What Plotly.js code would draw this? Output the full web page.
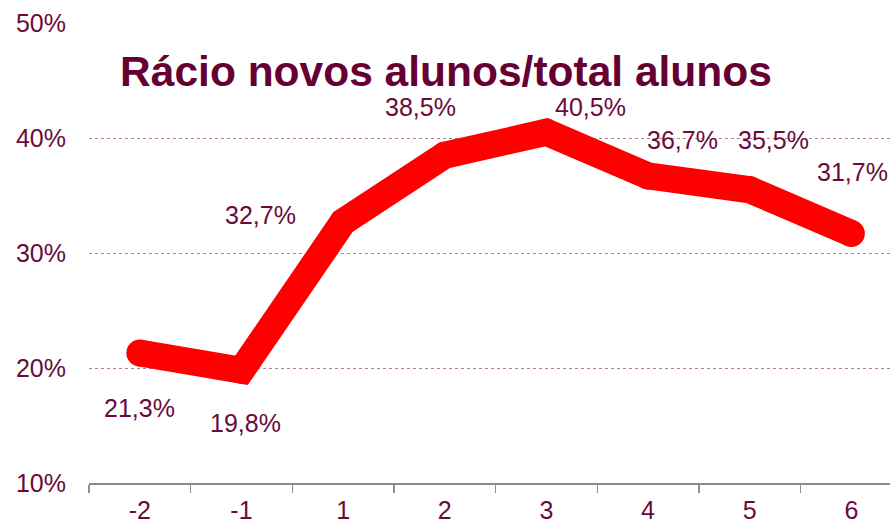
<!DOCTYPE html>
<html>
<head>
<meta charset="utf-8">
<script src="https://cdn.plot.ly/plotly-3.0.1.min.js"></script>
<style>html,body{margin:0;padding:0;background:#fff;}#chart{width:890px;height:526px;}</style>
</head>
<body>
<div id="chart"></div>
<script>
const categories = ['-2', '-1', '1', '2', '3', '4', '5', '6'];
const ratios = [0.213, 0.198, 0.327, 0.385, 0.405, 0.367, 0.355, 0.317];
const labels = ['21,3%', '19,8%', '32,7%', '38,5%', '40,5%', '36,7%', '35,5%', '31,7%'];
const yTickVals = [0.1, 0.2, 0.3, 0.4, 0.5];
const yTickText = ['10%', '20%', '30%', '40%', '50%'];
const titleText = 'Rácio novos alunos/total alunos';

// label offsets (pixels) relative to each point
const labelShiftX = [0, 4, -83, -24, 44, 34, 24, 1];
const labelShiftY = [-55, -53, 7, 48, 25, 36, 50, 61];

const textColor = '#6b0a3a';
const fontFam = 'Liberation Sans, Arial, sans-serif';

const annotations = categories.map((c, i) => ({
  x: i, y: ratios[i], xref: 'x', yref: 'y',
  text: labels[i], showarrow: false,
  xshift: labelShiftX[i], yshift: labelShiftY[i],
  font: {family: fontFam, size: 25, color: textColor}
}));

const trace = {
  x: categories, y: ratios, type: 'scatter', mode: 'lines+markers',
  line: {color: '#ff0000', width: 27, shape: 'linear'},
  marker: {color: '#ff0000', size: 27, line: {width: 0}},
  hoverinfo: 'skip'
};

const layout = {
  width: 890, height: 526,
  margin: {l: 89, r: 0, t: 23, b: 43, pad: 0},
  paper_bgcolor: '#ffffff', plot_bgcolor: '#ffffff',
  showlegend: false,
  title: {
    text: '<b>' + titleText + '</b>',
    xref: 'container', yref: 'container',
    x: 446 / 890, xanchor: 'center',
    y: 1 - 71 / 526, yanchor: 'middle',
    font: {family: fontFam, size: 42.5, color: '#660033'}
  },
  xaxis: {
    type: 'category',
    range: [-0.5, 7.38],
    showgrid: false, zeroline: false,
    showline: true, linecolor: '#8c8c8c', linewidth: 1.5,
    ticks: 'outside', ticklen: 8, tickwidth: 1.5, tickcolor: '#8c8c8c',
    tickson: 'boundaries',
    ticklabelstandoff: 4,
    tickfont: {family: fontFam, size: 25, color: textColor},
    fixedrange: true
  },
  yaxis: {
    range: [0.1, 0.5],
    tickvals: yTickVals, ticktext: yTickText,
    showgrid: true, gridcolor: '#b87a98', gridwidth: 1, griddash: 'dot',
    zeroline: false, showline: false, ticks: '',
    ticklabelstandoff: 22,
    tickfont: {family: fontFam, size: 25, color: textColor},
    fixedrange: true
  },
  annotations: annotations
};

Plotly.newPlot('chart', [trace], layout, {displayModeBar: false, staticPlot: true});
</script>
</body>
</html>
